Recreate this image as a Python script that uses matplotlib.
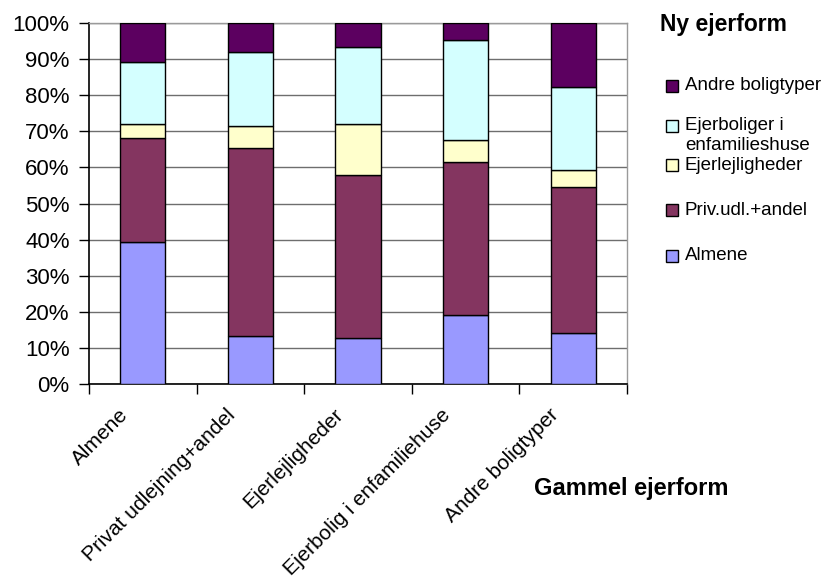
import numpy as np
import matplotlib
matplotlib.use("Agg")
import matplotlib.pyplot as plt
from matplotlib.patches import Rectangle
from matplotlib.transforms import ScaledTranslation

plt.rcParams['font.family'] = ['Liberation Sans', 'DejaVu Sans']

# gammel ejerform (x-akse)
categories = ["Almene", "Privat udlejning+andel", "Ejerlejligheder",
              "Ejerbolig i enfamiliehuse", "Andre boligtyper"]

# ny ejerform, andele i procent (bund -> top)
almene = [39.3, 13.3, 12.8, 19.0, 14.2]
priv_udl = [28.8, 52.2, 45.0, 42.6, 40.5]
ejerlejl = [4.0, 6.1, 14.3, 6.1, 4.7]
ejerbolig = [17.0, 20.5, 21.3, 27.5, 22.9]
andre = [10.9, 7.9, 6.6, 4.8, 17.7]

series_names = ["Almene", "Priv.udl.+andel", "Ejerlejligheder",
                "Ejerboliger i\nenfamilieshuse", "Andre boligtyper"]
series = [almene, priv_udl, ejerlejl, ejerbolig, andre]
colors = ["#9999FF", "#843560", "#FFFFCC", "#D4FFFF", "#5C0060"]

fig = plt.figure(figsize=(8.4, 5.85), dpi=100)
ax = fig.add_axes([89 / 840, 1 - 384 / 585, (627 - 89) / 840, (384 - 23) / 585])

x = np.arange(len(categories))
bottom = np.zeros(len(categories))
for vals, col in zip(series, colors):
    ax.bar(x, vals, width=0.42, bottom=bottom, color=col,
           edgecolor="black", linewidth=1.0, zorder=3)
    bottom += np.array(vals)

ax.set_xlim(-0.5, len(categories) - 0.5)
ax.set_ylim(0, 100)

# y-akse
ax.set_yticks(np.arange(0, 101, 10))
ax.set_yticklabels([f"{v}%" for v in range(0, 101, 10)], fontsize=16)
ax.yaxis.grid(True, color="#6e6e6e", linewidth=1.0, zorder=0)
ax.tick_params(axis="y", direction="out", length=7, width=1, pad=7)

# x-akse: tick-streger ved kategorigrænser, labels i midten
ax.set_xticks(np.arange(-0.5, len(categories), 1.0))
ax.set_xticklabels([])
ax.tick_params(axis="x", which="major", direction="out", length=7, width=1)
ax.set_xticks(x, minor=True)
ax.set_xticklabels(categories, minor=True, fontsize=15, rotation=45,
                   ha="right", va="center", rotation_mode="anchor")
ax.tick_params(axis="x", which="minor", length=0, pad=20)
shift = ScaledTranslation(-18 / 100, 0, fig.dpi_scale_trans)
for lbl in ax.get_xticklabels(minor=True):
    lbl.set_transform(lbl.get_transform() + shift)

for side in ["left", "bottom"]:
    ax.spines[side].set_color("black")
    ax.spines[side].set_linewidth(1.2)
for side in ["top", "right"]:
    ax.spines[side].set_color("#9a9a9a")
    ax.spines[side].set_linewidth(1.0)

fig.text(631 / 840, 1 - 488 / 585, "Gammel ejerform", fontsize=17,
         fontweight="bold", ha="center", va="center")

# legend (tegnet manuelt for at ramme Excel-layoutet)
fig.text(660 / 840, 1 - 25 / 585, "Ny ejerform", fontsize=16.5,
         fontweight="bold", ha="left", va="center")
legend_y = [86, 126, 165, 210, 256]
order = [4, 3, 2, 1, 0]
for yy, i in zip(legend_y, order):
    fig.patches.append(Rectangle((666 / 840, 1 - (yy + 6) / 585), 12 / 840, 12 / 585,
                                 transform=fig.transFigure, facecolor=colors[i],
                                 edgecolor="black", linewidth=1.0))
    name = series_names[i]
    if "\n" in name:
        first, second = name.split("\n")
        fig.text(685 / 840, 1 - yy / 585, first, fontsize=13.5, ha="left", va="center")
        fig.text(685 / 840, 1 - (yy + 19) / 585, second, fontsize=13.5, ha="left", va="center")
    else:
        fig.text(685 / 840, 1 - yy / 585, name, fontsize=13.5, ha="left", va="center")

fig.savefig("out.png", dpi=100)
